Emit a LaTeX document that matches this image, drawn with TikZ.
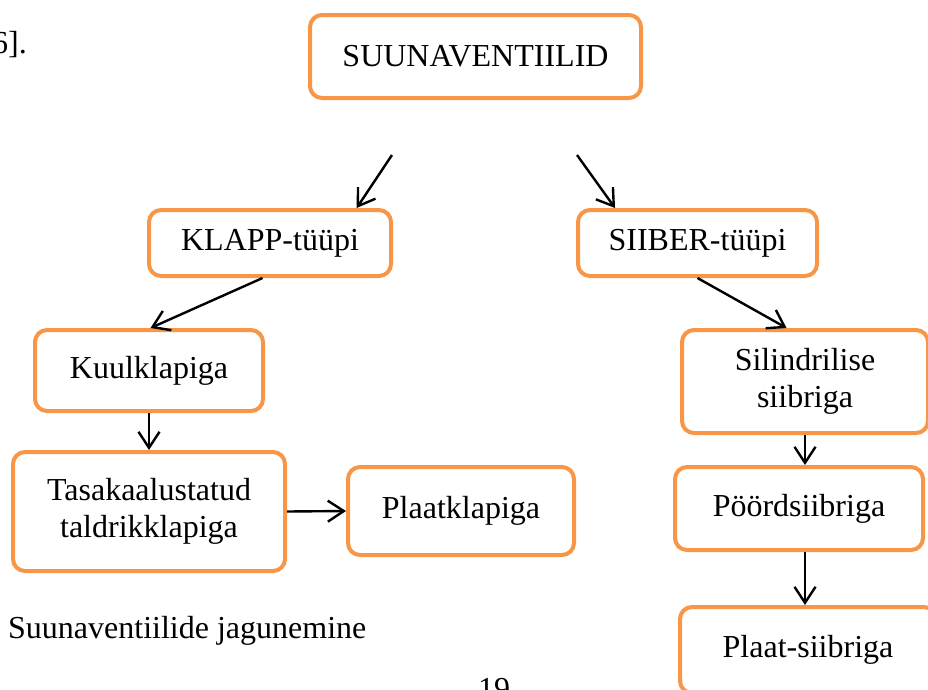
\documentclass[tikz,border=0pt]{standalone}
\usepackage{fontspec}
\setmainfont{Liberation Serif}
\usetikzlibrary{arrows.meta}
\definecolor{boxorange}{RGB}{247,150,70}
\begin{document}
\begin{tikzpicture}[x = 1pt, y = -1pt,
		font = \fontsize{32}{37}\selectfont,
		vbox/.style = {draw = boxorange, line width = 4pt, rounded corners = 12pt, align = center, inner sep = 0pt},
		arr/.style = {line width = 2.4pt, -{Straight Barb[length = 16pt, width = 21pt]}}]
		\useasboundingbox (0,0) rectangle (928,689);
		% text around the figure
		\node [anchor = base west, inner sep = 0pt] (ref) at (-8,53) {6].};
		\node [anchor = base west, inner sep = 0pt] (caption) at (8,638) {Suunaventiilide jagunemine};
		\node [anchor = base west, inner sep = 0pt] (page) at (478,699) {19};
		% boxes
		\node [vbox, minimum width = 331pt, minimum height = 83pt] (suuna) at (475.5,56.5) {SUUNAVENTIILID};
		\node [vbox, minimum width = 242pt, minimum height = 66pt] (klapp) at (270,243) {KLAPP-tüüpi};
		\node [vbox, minimum width = 239pt, minimum height = 66pt] (siiber) at (697.5,243) {SIIBER-tüüpi};
		\node [vbox, minimum width = 228pt, minimum height = 81pt] (kuul) at (149,370.5) {Kuulklapiga};
		\node [vbox, minimum width = 272pt, minimum height = 119pt] (tasa) at (149,511.5) {Tasakaalustatud\\taldrikklapiga};
		\node [vbox, minimum width = 226pt, minimum height = 88pt] (plaatk) at (461,511) {Plaatklapiga};
		\node [vbox, minimum width = 246pt, minimum height = 103pt] (silin) at (805,381.5) {Silindrilise\\siibriga};
		\node [vbox, minimum width = 248pt, minimum height = 83pt] (poord) at (799,508.5) {Pöördsiibriga};
		\node [vbox, minimum width = 256pt, minimum height = 86pt] (plaats) at (808,650) {Plaat-siibriga};
		% arrows
		\coordinate (s1) at (392,155);
		\coordinate (s2) at (577,155);
		\draw [arr] (s1) -- (klapp.22);
		\draw [arr] (s2) -- (siiber.157);
		\draw [arr] (klapp.258) -- (kuul.88);
		\draw [arr] (siiber.south) -- (silin.109);
		\draw [arr] (kuul.south) -- (tasa.north);
		\draw [arr] (tasa.east) -- (plaatk.west);
		\draw [arr] (silin.south) -- (poord.north -| silin.south);
		\draw [arr] (poord.south -| silin.south) -- (plaats.north -| silin.south);
	\end{tikzpicture}
\end{document}
